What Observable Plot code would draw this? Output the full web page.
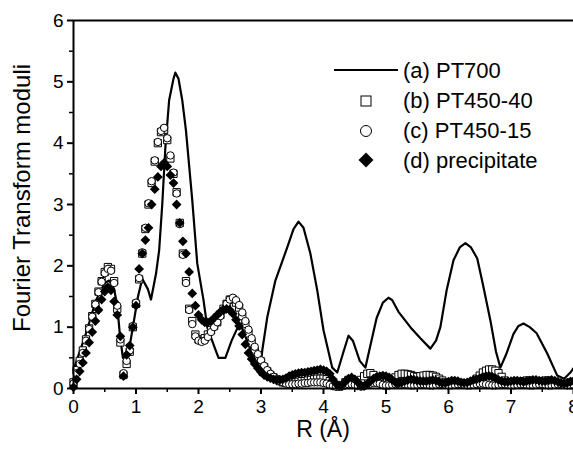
<!DOCTYPE html>
<html><head><meta charset="utf-8">
<script src="https://cdn.jsdelivr.net/npm/d3@7"></script>
<script src="https://cdn.jsdelivr.net/npm/@observablehq/plot@0.6"></script>
<style>
body{margin:0;background:#fff;}
#wrap{width:573px;height:450px;overflow:hidden;}
</style></head><body><div id="wrap"></div>
<script>
// Sampling grid (Å) shared by the three marker series
const R = [
0,0.05,0.1,0.15,0.2,0.25,0.3,0.35,0.4,0.45,
0.5,0.55,0.6,0.65,0.7,0.75,0.8,0.85,0.9,0.95,
1,1.05,1.1,1.15,1.2,1.25,1.3,1.35,1.4,1.45,
1.5,1.55,1.6,1.65,1.7,1.75,1.8,1.85,1.9,1.95,
2,2.05,2.1,2.15,2.2,2.25,2.3,2.35,2.4,2.45,
2.5,2.55,2.6,2.65,2.7,2.75,2.8,2.85,2.9,2.95,
3,3.05,3.1,3.15,3.2,3.25,3.3,3.35,3.4,3.45,
3.5,3.55,3.6,3.65,3.7,3.75,3.8,3.85,3.9,3.95,
4,4.05,4.1,4.15,4.2,4.25,4.3,4.35,4.4,4.45,
4.5,4.55,4.6,4.65,4.7,4.75,4.8,4.85,4.9,4.95,
5,5.05,5.1,5.15,5.2,5.25,5.3,5.35,5.4,5.45,
5.5,5.55,5.6,5.65,5.7,5.75,5.8,5.85,5.9,5.95,
6,6.05,6.1,6.15,6.2,6.25,6.3,6.35,6.4,6.45,
6.5,6.55,6.6,6.65,6.7,6.75,6.8,6.85,6.9,6.95,
7,7.05,7.1,7.15,7.2,7.25,7.3,7.35,7.4,7.45,
7.5,7.55,7.6,7.65,7.7,7.75,7.8,7.85,7.9,7.95,
8];

// (b) PT450-40 — squares
const pt450_40 = [
0.10,0.30,0.45,0.62,0.80,0.98,1.18,1.38,1.58,1.75,
1.90,1.98,1.95,1.75,1.30,0.75,0.22,0.40,0.60,1.00,
1.38,1.78,2.20,2.60,3.00,3.35,3.70,4.00,4.18,4.22,
4.05,3.75,3.50,3.20,2.70,2.20,1.75,1.30,1.10,0.88,
0.80,0.78,0.82,0.88,0.95,1.02,1.08,1.20,1.30,1.38,
1.45,1.45,1.40,1.32,1.18,1.05,0.90,0.75,0.62,0.52,
0.44,0.35,0.28,0.22,0.18,0.15,0.12,0.10,0.09,0.09,
0.10,0.10,0.11,0.12,0.12,0.13,0.14,0.15,0.16,0.16,
0.16,0.15,0.12,0.08,0.04,0.03,0.05,0.10,0.14,0.15,
0.12,0.10,0.14,0.20,0.24,0.25,0.22,0.16,0.10,0.06,
0.05,0.07,0.12,0.18,0.22,0.24,0.24,0.23,0.22,0.20,
0.19,0.20,0.21,0.22,0.22,0.21,0.19,0.16,0.13,0.10,
0.08,0.07,0.07,0.08,0.09,0.08,0.07,0.08,0.11,0.16,
0.21,0.26,0.29,0.31,0.31,0.29,0.25,0.19,0.13,0.09,
0.07,0.07,0.08,0.10,0.12,0.13,0.13,0.12,0.11,0.11,
0.12,0.13,0.13,0.12,0.10,0.08,0.07,0.07,0.08,0.10,
0.11];

// (c) PT450-15 — circles
const pt450_15 = [
0.08,0.25,0.40,0.58,0.78,0.97,1.17,1.37,1.57,1.74,
1.88,1.95,1.92,1.72,1.35,0.80,0.25,0.45,0.62,1.02,
1.40,1.80,2.22,2.62,3.02,3.38,3.72,4.02,4.20,4.25,
4.08,3.80,3.52,3.18,2.68,2.18,1.72,1.28,1.05,0.85,
0.78,0.76,0.78,0.84,0.92,1.00,1.08,1.18,1.28,1.38,
1.45,1.48,1.44,1.36,1.24,1.10,0.96,0.82,0.68,0.56,
0.46,0.37,0.30,0.24,0.19,0.15,0.12,0.10,0.08,0.07,
0.07,0.07,0.08,0.08,0.09,0.09,0.10,0.10,0.10,0.10,
0.09,0.08,0.06,0.04,0.03,0.03,0.04,0.06,0.07,0.07,
0.06,0.04,0.03,0.04,0.06,0.08,0.09,0.09,0.08,0.06,
0.05,0.05,0.06,0.07,0.08,0.08,0.07,0.06,0.05,0.05,
0.06,0.07,0.07,0.06,0.05,0.05,0.06,0.07,0.07,0.06,
0.05,0.05,0.06,0.07,0.07,0.06,0.05,0.05,0.06,0.07,
0.08,0.08,0.07,0.06,0.05,0.05,0.06,0.07,0.07,0.06,
0.05,0.05,0.06,0.07,0.07,0.06,0.05,0.05,0.06,0.07,
0.07,0.06,0.05,0.05,0.06,0.07,0.07,0.06,0.05,0.05,
0.06];

// (d) precipitate — filled diamonds
const precipitate = [
0.02,0.15,0.28,0.42,0.58,0.75,0.92,1.10,1.28,1.45,
1.58,1.65,1.60,1.42,1.20,0.85,0.20,0.55,0.70,1.00,
1.35,1.95,2.20,2.42,2.62,3.00,3.25,3.45,3.62,3.68,
3.62,3.48,3.35,3.00,2.70,2.40,2.20,1.90,1.55,1.35,
1.20,1.12,1.08,1.08,1.10,1.15,1.20,1.25,1.28,1.30,
1.28,1.22,1.12,1.02,0.88,0.72,0.58,0.48,0.40,0.33,
0.27,0.22,0.19,0.17,0.15,0.14,0.14,0.15,0.17,0.20,
0.22,0.24,0.25,0.26,0.26,0.27,0.28,0.29,0.30,0.31,
0.30,0.28,0.24,0.15,0.08,0.05,0.06,0.12,0.16,0.18,
0.15,0.10,0.05,0.04,0.07,0.12,0.16,0.19,0.20,0.21,
0.20,0.18,0.14,0.10,0.09,0.10,0.12,0.14,0.15,0.14,
0.13,0.12,0.12,0.12,0.13,0.14,0.13,0.11,0.09,0.09,
0.11,0.13,0.13,0.12,0.10,0.09,0.10,0.12,0.14,0.15,
0.17,0.19,0.20,0.20,0.19,0.17,0.14,0.12,0.11,0.11,
0.12,0.13,0.13,0.12,0.11,0.12,0.13,0.14,0.14,0.13,
0.12,0.12,0.13,0.14,0.13,0.11,0.09,0.08,0.09,0.11,
0.12];

// (a) PT700 — solid line
const pt700_R = [0,0.1,0.2,0.36,0.5,0.57,0.65,0.7,0.74,0.79,0.84,0.9,0.95,1.03,1.1,1.19,1.24,1.32,1.37,1.42,1.47,1.53,1.6,1.63,1.68,1.74,1.8,1.9,1.98,2.08,2.14,2.24,2.32,2.43,2.53,2.62,2.7,2.8,2.9,2.98,3.02,3.1,3.23,3.42,3.52,3.6,3.68,3.79,3.9,4.0,4.14,4.22,4.32,4.4,4.47,4.58,4.67,4.75,4.85,4.95,5.04,5.1,5.2,5.39,5.55,5.71,5.8,5.87,5.97,6.08,6.18,6.27,6.36,6.46,6.55,6.67,6.76,6.83,6.92,7.04,7.12,7.2,7.3,7.41,7.58,7.74,7.85,7.95,8.0];
const pt700_V = [0.3,0.6,0.9,1.44,1.72,1.76,1.62,1.35,0.9,0.5,0.5,0.7,1.0,1.49,1.79,1.62,1.45,1.87,2.25,3.0,3.93,4.7,5.05,5.15,5.05,4.7,4.2,3.07,2.04,1.44,1.0,0.72,0.5,0.5,0.78,0.98,0.98,0.72,0.45,0.22,0.62,1.16,1.76,2.3,2.6,2.72,2.62,2.2,1.6,0.95,0.34,0.26,0.6,0.86,0.78,0.45,0.34,0.7,1.15,1.4,1.48,1.44,1.25,1.0,0.82,0.65,0.78,1.0,1.6,2.09,2.3,2.37,2.3,2.12,1.7,1.11,0.6,0.34,0.55,0.89,1.02,1.06,1.0,0.9,0.57,0.21,0.16,0.26,0.33];

const xMajor = [0,1,2,3,4,5,6,7,8];
const xMinor = [0.5,1.5,2.5,3.5,4.5,5.5,6.5,7.5];
const yMajor = [0,1,2,3,4,5,6];
const yMinor = [0.5,1.5,2.5,3.5,4.5,5.5];
const legendLabels = ["(a) PT700","(b) PT450-40","(c) PT450-15","(d) precipitate"];
const xTitle = "R (Å)";
const yTitle = "Fourier Transform moduli";

const FONT = '"Liberation Sans", Arial, Helvetica, sans-serif';
const toPts = vals => R.map((r, i) => ({R: r, v: vals[i]}));
const line = pt700_R.map((r, i) => ({R: r, v: pt700_V[i]}));

const chart = Plot.plot({
  width: 573, height: 450,
  marginLeft: 73, marginRight: 0, marginTop: 20, marginBottom: 62,
  x: {domain: [0, 8], label: null},
  y: {domain: [0, 6], label: null},
  style: {fontFamily: FONT, color: "#000", background: "#fff", fontSize: "19px"},
  marks: [
    Plot.line(line, {x: "R", y: "v", stroke: "#000", strokeWidth: 2.2, curve: "linear"}),
    Plot.dot(toPts(pt450_40), {x: "R", y: "v", symbol: "square", r: 4.1, fill: "#fff", stroke: "#000", strokeWidth: 1}),
    Plot.dot(toPts(pt450_15), {x: "R", y: "v", symbol: "circle", r: 3.7, fill: "#fff", stroke: "#000", strokeWidth: 1}),
    Plot.dot(toPts(precipitate), {x: "R", y: "v", symbol: "diamond2", r: 4.4, fill: "#000", stroke: "none"}),
    Plot.ruleY([6], {stroke: "#000", strokeWidth: 2}),
    Plot.ruleY([0], {stroke: "#000", strokeWidth: 2}),
    Plot.ruleX([0], {stroke: "#000", strokeWidth: 2}),
    Plot.axisX(xMinor, {tickSize: 4, tickFormat: () => "", strokeWidth: 1.5, label: null}),
    Plot.axisX(xMajor, {tickSize: 6, tickPadding: 5, strokeWidth: 2, fontSize: 19, label: null, tickFormat: d => String(d)}),
    Plot.axisY(yMinor, {tickSize: 4, tickFormat: () => "", strokeWidth: 1.5, label: null}),
    Plot.axisY(yMajor, {tickSize: 6, tickPadding: 4, strokeWidth: 2, fontSize: 19, label: null, tickFormat: d => String(d)})
  ]
});

document.getElementById("wrap").appendChild(chart);

const svg = d3.select(chart);
// axis titles
svg.append("text").attr("x", 323).attr("y", 437).attr("text-anchor", "middle")
  .attr("font-family", FONT).attr("font-size", 23).attr("fill", "#000").text(xTitle);
svg.append("text").attr("transform", "translate(21,198) rotate(-90)")
  .attr("text-anchor", "middle").attr("dy", "0.36em")
  .attr("font-family", FONT).attr("font-size", 24).attr("fill", "#000").text(yTitle);

// legend
const lg = svg.append("g").attr("font-family", FONT).attr("font-size", 22).attr("fill", "#000").attr("text-anchor", "start");
legendLabels.forEach((lab, i) => {
  lg.append("text").attr("x", 403).attr("y", 70 + 30 * i).attr("dy", "0.36em").attr("text-anchor", "start").text(lab);
});
lg.append("line").attr("x1", 334).attr("x2", 398).attr("y1", 70).attr("y2", 70).attr("stroke", "#000").attr("stroke-width", 2);
lg.append("rect").attr("x", 361).attr("y", 96).attr("width", 10).attr("height", 10).attr("fill", "#fff").attr("stroke", "#000");
lg.append("circle").attr("cx", 366).attr("cy", 131).attr("r", 5.5).attr("fill", "#fff").attr("stroke", "#000");
lg.append("path").attr("d", "M366,152.5L373.5,160L366,167.5L358.5,160Z").attr("fill", "#000");
</script>
</body></html>
